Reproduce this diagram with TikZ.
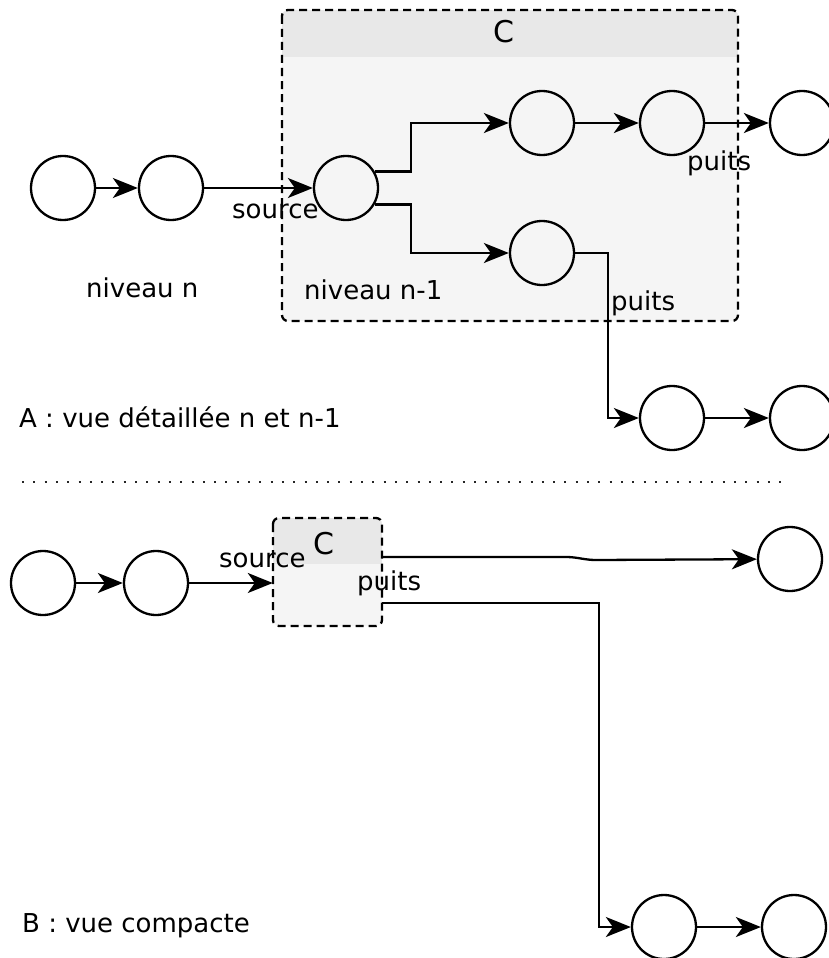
\documentclass[tikz,border=0pt]{standalone}
\usepackage{fontspec}
\setmainfont{DejaVu Sans}
\usetikzlibrary{arrows.meta}
\definecolor{hdr}{HTML}{E8E8E8}
\definecolor{bdy}{HTML}{F5F5F5}
\begin{document}
\begin{tikzpicture}[x=1pt,y=-1pt,
  circ/.style={circle,draw,line width=2.3pt,minimum size=64pt,inner sep=0pt},
  arr/.style={line width=2.3pt,-{Stealth[length=25pt,width=20pt,inset=7pt]}},
  lbl/.style={inner sep=0pt,anchor=base west,font=\fontsize{26}{31}\selectfont},
  ttl/.style={inner sep=0pt,anchor=base,font=\fontsize{30}{36}\selectfont},
  contborder/.style={draw,dash pattern=on 8pt off 5pt,line width=2.3pt,rounded corners=6pt},
  sep/.style={line width=2pt,dash pattern=on 2pt off 9.3pt,black!85},
]
\useasboundingbox (0,0) rectangle (829,958);

% ---------- container A ----------
\fill[bdy,rounded corners=6pt] (282,10) rectangle (738,321);
\begin{scope}
  \clip[rounded corners=6pt] (282,10) rectangle (738,321);
  \fill[hdr] (282,10) rectangle (738,57);
\end{scope}
\draw[contborder] (282,10) rectangle (738,321);
\node[ttl] (cA) at (504,43) {C};

% ---------- nodes A ----------
\node[circ] (a1) at (63,188) {};
\node[circ] (a2) at (171,188) {};
\node[circ] (a3) at (346,188) {};
\node[circ] (u1) at (542,123) {};
\node[circ] (u2) at (672,123) {};
\node[circ] (u3) at (802,123) {};
\node[circ] (l1) at (542,253) {};
\node[circ] (b1) at (672,418) {};
\node[circ] (b2) at (802,418) {};

\coordinate (k1) at (411,0);
\coordinate (k2) at (608,0);

\draw[arr] (a1) -- (a2);
\draw[arr] (a2) -- (a3);
\draw[arr] (a3.30) -| (k1 |- u1) -- (u1);
\draw[arr] (a3.-30) -| (k1 |- l1) -- (l1);
\draw[arr] (u1) -- (u2);
\draw[arr] (u2) -- (u3);
\draw[arr] (l1) -| (k2 |- b1) -- (b1);
\draw[arr] (b1) -- (b2);

\node[lbl] (tsrcA) at (232,218) {source};
\node[lbl] (tp1) at (687,170) {puits};
\node[lbl] (tp2) at (611,310) {puits};
\node[lbl] (tnv1) at (304,299) {niveau n-1};
\node[lbl] (tnv) at (86,297) {niveau n};
\node[lbl] (tA) at (19,427) {A : vue détaillée n et n-1};

% ---------- separator ----------
\coordinate (s1) at (22,482);
\coordinate (s2) at (785,482);
\draw[sep] (s1) -- (s2);

% ---------- container B ----------
\fill[bdy,rounded corners=6pt] (273,518) rectangle (382,626);
\begin{scope}
  \clip[rounded corners=6pt] (273,518) rectangle (382,626);
  \fill[hdr] (273,518) rectangle (382,564);
\end{scope}
\draw[contborder] (273,518) rectangle (382,626);
\node[inner sep=0pt,minimum width=109pt,minimum height=108pt] (boxB) at (327.5,572) {};
\node[ttl] (cB) at (324,554) {C};

\node[circ] (d1) at (43,583) {};
\node[circ] (d2) at (156,583) {};
\node[circ] (r1) at (790,559) {};
\node[circ] (e1) at (664,927) {};
\node[circ] (e2) at (794,927) {};

\coordinate (w1) at (566,557);
\coordinate (w2) at (596,560);
\coordinate (k3) at (599,0);

\draw[arr] (d1) -- (d2);
\draw[arr] (d2) -- (boxB.west |- d2);
\draw[arr] ([yshift=15pt]boxB.east) -- (w1) to[out=0,in=180] (w2) -- (r1);
\draw[arr] ([yshift=-31pt]boxB.east) -| (k3 |- e1) -- (e1);
\draw[arr] (e1) -- (e2);

\node[lbl] (tsrcB) at (219,567) {source};
\node[lbl] (tp3) at (357,590) {puits};
\node[lbl] (tB) at (22,932) {B : vue compacte};
\end{tikzpicture}
\end{document}
